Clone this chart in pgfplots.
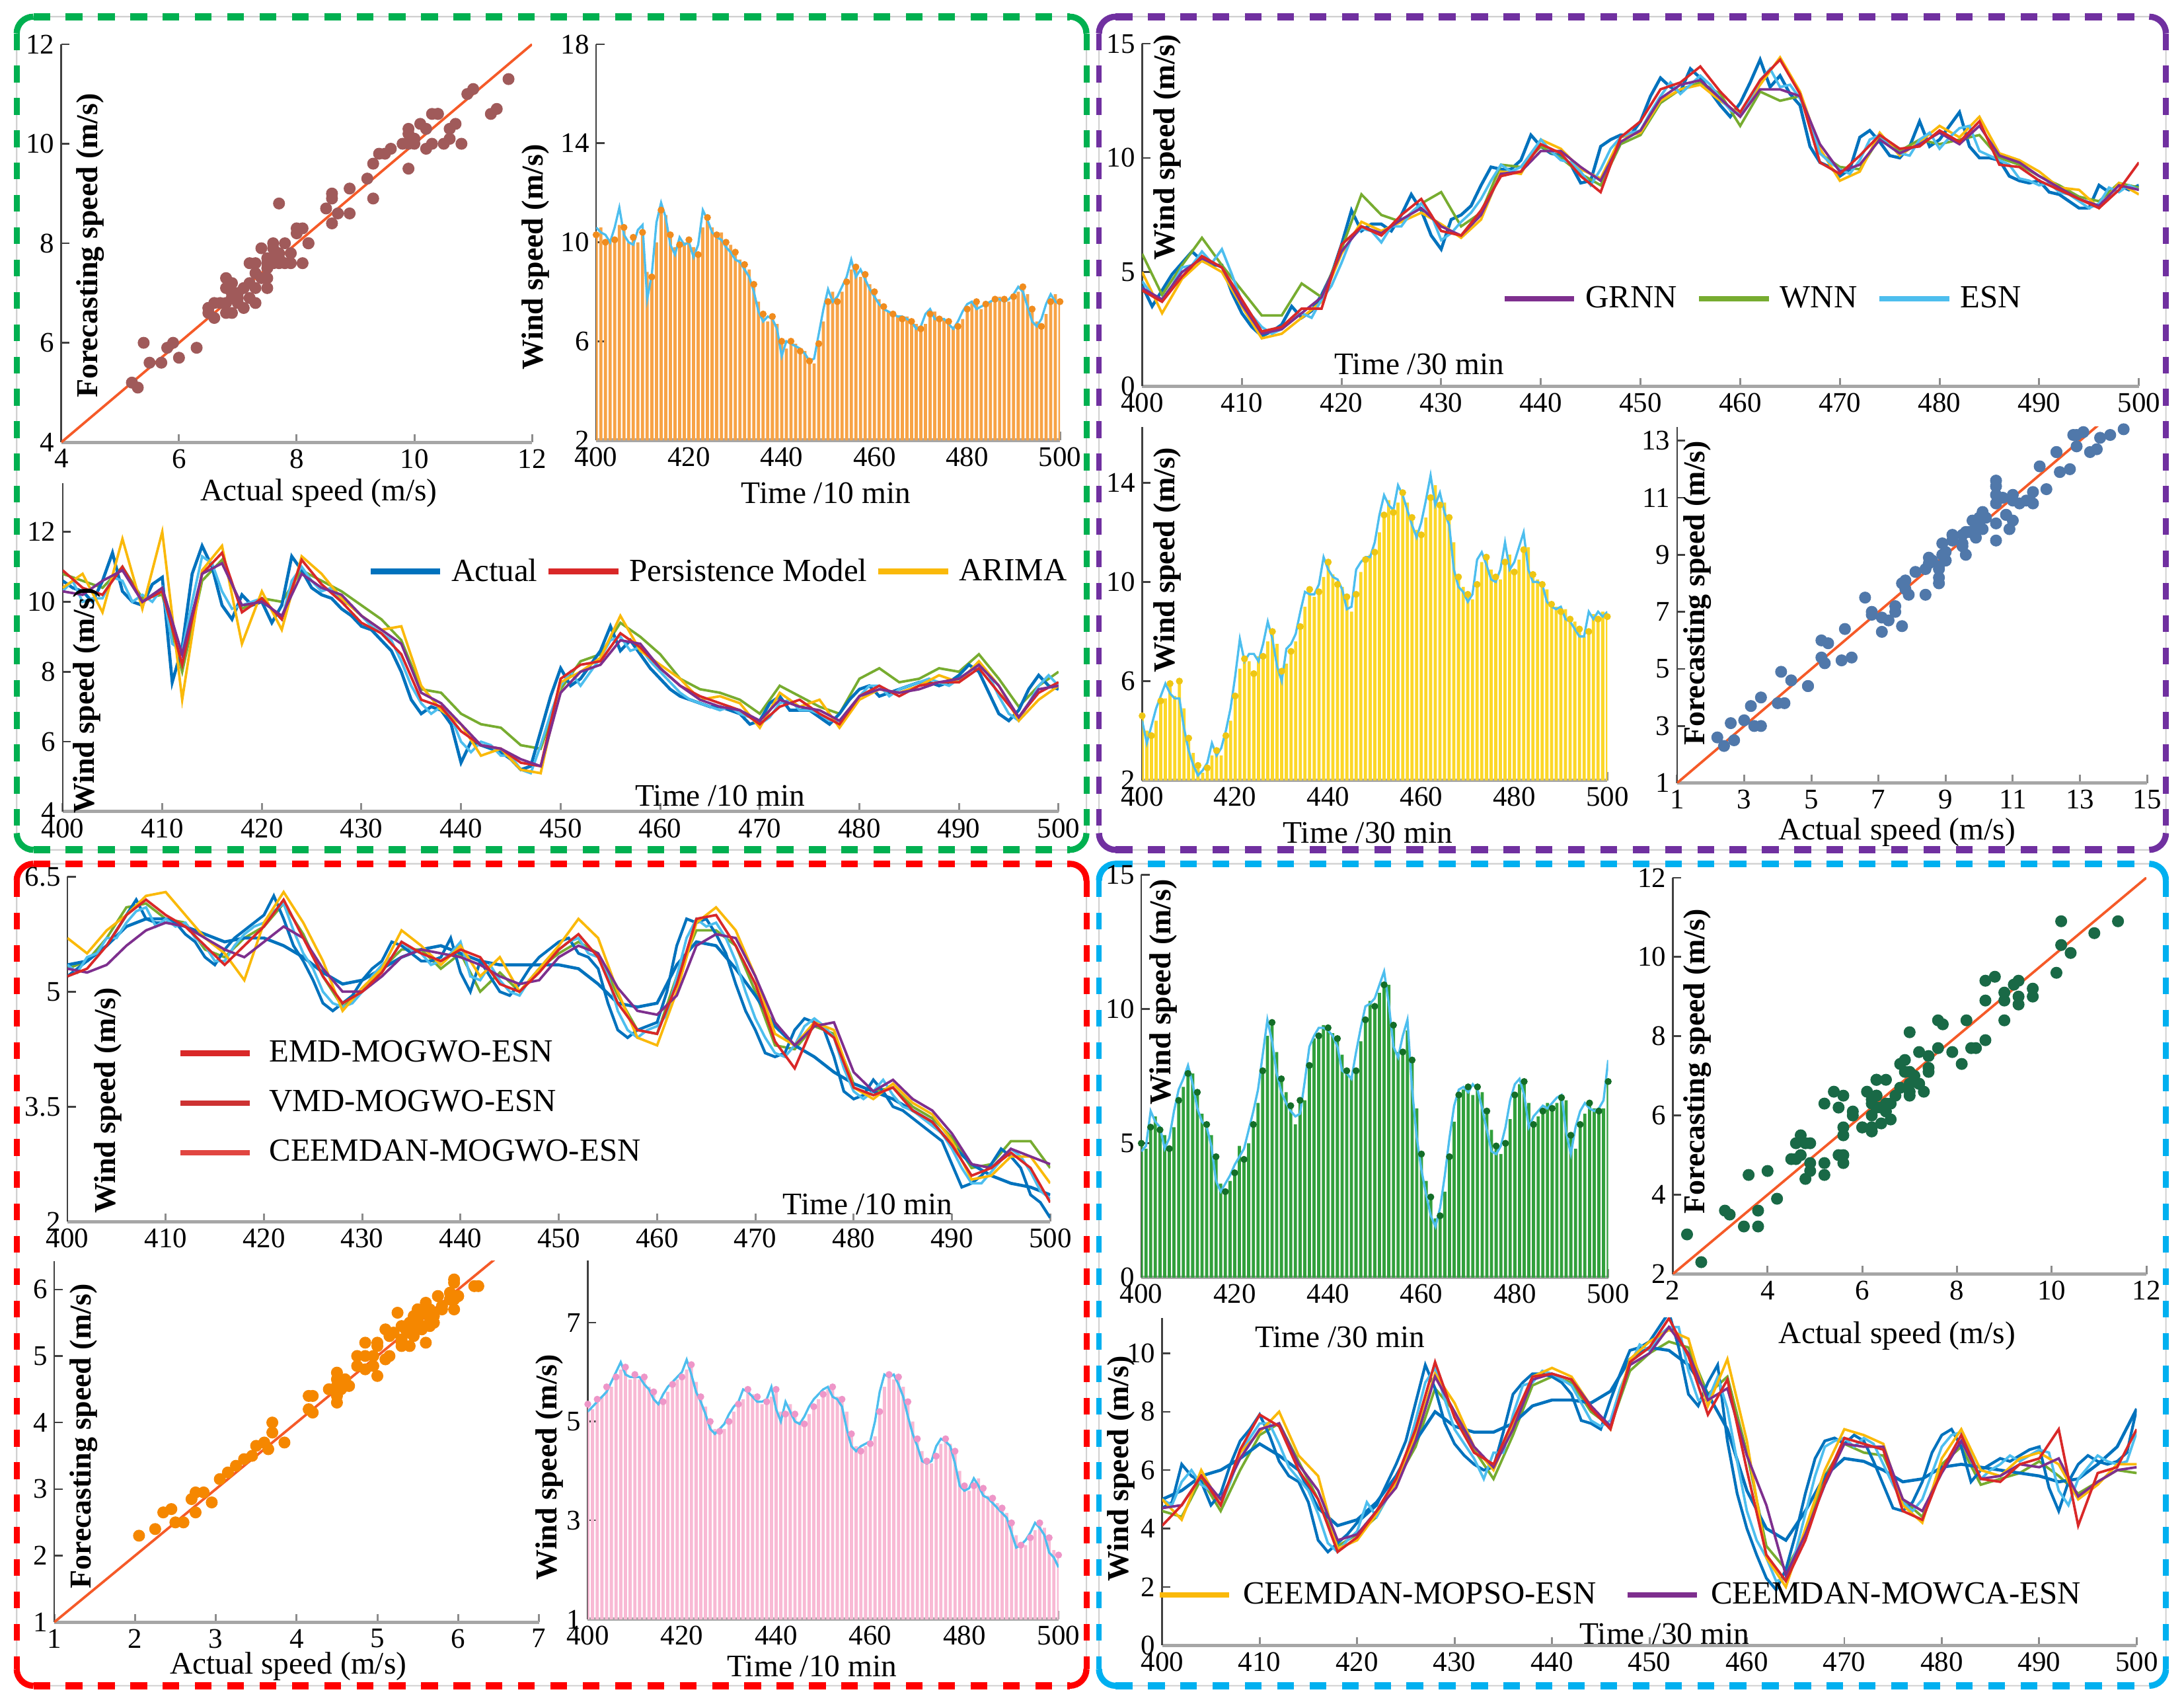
\documentclass[border=0pt]{standalone}
\usepackage{pgfplots}
\pgfplotsset{compat=1.18}
\usepackage{pgfplotstable}
\usepackage{fontspec}
\setmainfont{Liberation Serif}

\definecolor{mblue}{RGB}{0,114,189}
\definecolor{mred}{RGB}{217,40,40}
\definecolor{mredb}{RGB}{205,50,50}
\definecolor{mredc}{RGB}{225,70,65}
\definecolor{myellow}{RGB}{250,185,10}
\definecolor{mpurple}{RGB}{126,47,142}
\definecolor{mgreen}{RGB}{119,172,48}
\definecolor{mcyan}{RGB}{77,190,238}
\definecolor{barA}{RGB}{247,163,70}
\definecolor{dotA}{RGB}{240,140,30}
\definecolor{barB}{RGB}{252,215,40}
\definecolor{dotB}{RGB}{238,198,20}
\definecolor{barC}{RGB}{248,185,212}
\definecolor{dotC}{RGB}{238,150,200}
\definecolor{barD}{RGB}{50,160,60}
\definecolor{dotD}{RGB}{20,110,40}
\definecolor{scA}{RGB}{160,90,90}
\definecolor{scB}{RGB}{80,120,170}
\definecolor{scC}{RGB}{245,135,0}
\definecolor{scD}{RGB}{25,105,70}
\definecolor{diag}{RGB}{245,90,40}
\definecolor{bxA}{RGB}{0,176,80}
\definecolor{bxB}{RGB}{112,48,160}
\definecolor{bxC}{RGB}{255,0,0}
\definecolor{bxD}{RGB}{0,176,240}

\newcommand\fTk{\fontsize{14.5}{16}\selectfont}
\newcommand\fLb{\fontsize{16}{19}\selectfont}
\newcommand\fYl{\fontsize{15.5}{18}\selectfont\bfseries}
\newcommand\fLg{\fontsize{16.5}{19}\selectfont}

\pgfplotsset{
  panel/.style={scale only axis, anchor=south west, axis lines*=left,
    x axis line style={line width=0.6mm, color=black!35},
    y axis line style={line width=0.3mm, color=black!75},
    tick align=inside, major tick length=1.5mm,
    xtick style={line width=0.35mm, color=black!45},
    ytick style={line width=0.3mm, color=black!75},
    tick label style={font=\fTk},
    /pgf/number format/assume math mode=true,
    legend image code/.code={\draw[##1] (0mm,0mm) -- (12.5mm,0mm);},
    legend style={draw=none, fill=none, inner sep=0pt, font=\fLg, column sep=0pt,
      nodes={inner xsep=1.5mm, inner ysep=0pt}}},
  ln/.style={line width=0.45mm, no markers, forget plot},
  bars/.style={ybar, bar width=0.68, draw=none, fill=#1, forget plot},
  dots/.style={only marks, mark=*, mark size=0.55mm, color=#1, each nth point=2, forget plot},
  scat/.style={only marks, mark=*, mark size=1mm, color=#1},
  diagline/.style={color=diag, line width=0.45mm, no markers},
}

% ---------- panel 1 (10 min) ----------
\pgfplotstableread[row sep=\\]{
t a f\\
400 10.6 10.3\\ 401 10.4 10.6\\ 402 10.3 10.0\\ 403 10.0 10.1\\ 404 10.6 10.1\\
405 11.4 10.7\\ 406 10.3 10.6\\ 407 10.0 10.0\\ 408 9.9 10.2\\ 409 10.5 10.0\\
410 10.7 10.4\\ 411 7.7 8.8\\ 412 8.7 8.6\\ 413 10.8 10.0\\ 414 11.6 11.3\\
415 11.0 11.1\\ 416 9.9 10.3\\ 417 9.5 9.8\\ 418 10.2 9.9\\ 419 9.9 10.0\\
420 10.0 10.1\\ 421 9.4 9.8\\ 422 9.9 9.5\\ 423 11.3 10.6\\ 424 10.9 11.0\\
425 10.4 10.6\\ 426 10.2 10.3\\ 427 10.1 10.4\\ 428 9.8 10.0\\ 429 9.6 9.9\\
430 9.3 9.6\\ 431 9.2 9.3\\ 432 8.9 9.1\\ 433 8.6 8.9\\ 434 8.0 8.3\\
435 7.2 7.6\\ 436 6.8 7.1\\ 437 7.0 6.8\\ 438 6.9 7.0\\ 439 6.5 6.7\\
440 5.4 6.0\\ 441 6.0 5.7\\ 442 5.9 6.0\\ 443 5.8 5.9\\ 444 5.7 5.6\\
445 5.5 5.6\\ 446 5.2 5.2\\ 447 5.3 5.1\\ 448 6.3 5.9\\ 449 7.3 6.8\\
450 8.1 7.6\\ 451 7.6 8.0\\ 452 7.8 7.6\\ 453 8.2 8.0\\ 454 8.6 8.4\\
455 9.3 8.9\\ 456 8.6 9.0\\ 457 8.9 8.6\\ 458 8.5 8.7\\ 459 8.1 8.3\\
460 7.8 8.0\\ 461 7.5 7.7\\ 462 7.3 7.4\\ 463 7.2 7.2\\ 464 7.1 7.1\\
465 7.0 7.0\\ 466 7.0 6.9\\ 467 6.9 7.0\\ 468 6.8 6.8\\ 469 6.5 6.7\\
470 6.6 6.5\\ 471 7.1 6.7\\ 472 7.3 7.1\\ 473 6.9 7.2\\ 474 6.9 6.9\\
475 6.9 6.9\\ 476 6.7 6.8\\ 477 6.5 6.6\\ 478 6.8 6.6\\ 479 7.2 6.9\\
480 7.5 7.3\\ 481 7.6 7.6\\ 482 7.3 7.6\\ 483 7.4 7.3\\ 484 7.5 7.5\\
485 7.6 7.6\\ 486 7.7 7.7\\ 487 7.7 7.8\\ 488 7.6 7.7\\ 489 7.7 7.6\\
490 7.9 7.8\\ 491 8.2 8.0\\ 492 8.0 8.2\\ 493 7.4 7.9\\ 494 6.8 7.3\\
495 6.6 6.8\\ 496 6.9 6.6\\ 497 7.5 7.1\\ 498 7.9 7.6\\ 499 7.6 7.9\\
500 7.5 7.6\\
}\qa
\pgfplotstableread[row sep=\\]{
t b c d e\\
400 10.9 10.4 10.8 10.3\\ 402 10.4 10.8 10.6 10.2\\ 404 10.2 9.7 10.4 10.6\\ 406 11.0 11.8 11.0 10.9\\ 408 10.0 9.8 10.1 10.0\\
410 10.3 12.0 10.2 10.4\\ 412 8.2 7.2 8.0 8.5\\ 414 10.8 10.9 10.6 10.8\\ 416 11.4 11.6 11.2 11.1\\ 418 9.7 8.8 9.8 9.9\\
420 10.1 10.3 10.1 10.0\\ 422 9.5 9.2 10.0 9.6\\ 424 11.2 11.3 10.9 10.8\\ 426 10.5 10.8 10.6 10.4\\ 428 10.0 10.1 10.3 10.2\\
430 9.4 9.6 9.9 9.6\\ 432 9.1 9.2 9.5 9.2\\ 434 8.5 9.3 8.9 8.8\\ 436 7.2 7.6 7.5 7.4\\ 438 7.0 6.9 7.4 7.1\\
440 6.3 6.5 6.8 6.5\\ 442 5.9 5.6 6.5 5.9\\ 444 5.8 5.8 6.4 5.8\\ 446 5.4 5.2 5.9 5.5\\ 448 5.3 5.1 5.8 5.3\\
450 7.8 7.7 7.5 7.4\\ 452 8.2 8.0 8.3 8.0\\ 454 8.3 8.4 8.5 8.2\\ 456 9.1 9.6 9.4 8.9\\ 458 8.7 8.6 9.0 8.8\\
460 8.1 8.2 8.5 8.1\\ 462 7.6 7.8 7.8 7.6\\ 464 7.3 7.2 7.5 7.2\\ 466 7.1 7.3 7.4 7.0\\ 468 6.9 7.1 7.2 6.9\\
470 6.5 6.4 6.8 6.6\\ 472 7.0 7.4 7.6 7.2\\ 474 7.2 7.0 7.3 7.0\\ 476 6.8 7.2 7.0 6.9\\ 478 6.5 6.4 6.8 6.6\\
480 7.3 7.2 7.8 7.3\\ 482 7.6 7.5 8.1 7.5\\ 484 7.3 7.4 7.7 7.4\\ 486 7.6 7.6 7.8 7.5\\ 488 7.7 7.9 8.1 7.7\\
490 7.7 7.7 8.0 7.8\\ 492 8.1 8.3 8.5 8.2\\ 494 7.4 7.6 7.8 7.6\\ 496 6.7 6.6 7.0 6.7\\ 498 7.4 7.2 7.6 7.5\\
500 7.7 7.6 8.0 7.6\\
}\qb

% ---------- panel 2 (30 min) ----------
\pgfplotstableread[row sep=\\]{
t a f\\
400 4.4 4.6\\ 401 3.5 4.0\\ 402 4.2 3.8\\ 403 4.9 4.4\\ 404 5.4 5.2\\
405 5.9 5.3\\ 406 5.5 5.9\\ 407 5.3 5.4\\ 408 5.3 6.0\\ 409 4.1 4.9\\
410 3.2 3.7\\ 411 2.6 3.1\\ 412 2.2 2.6\\ 413 2.4 2.3\\ 414 2.7 2.5\\
415 3.5 3.0\\ 416 3.0 3.2\\ 417 3.3 3.0\\ 418 4.0 3.8\\ 419 4.9 4.4\\
420 6.2 5.4\\ 421 7.7 6.5\\ 422 6.8 6.9\\ 423 7.1 6.8\\ 424 7.1 6.3\\
425 6.8 7.0\\ 426 7.5 7.0\\ 427 8.4 7.6\\ 428 7.7 8.0\\ 429 6.6 7.5\\
430 6.0 6.4\\ 431 7.3 6.7\\ 432 7.5 7.2\\ 433 7.9 7.6\\ 434 8.8 8.2\\
435 9.6 9.0\\ 436 9.5 9.7\\ 437 9.5 9.4\\ 438 9.9 9.6\\ 439 11.0 10.2\\
440 10.5 10.8\\ 441 10.2 10.3\\ 442 10.1 9.9\\ 443 9.7 9.8\\ 444 8.9 9.4\\
445 9.0 8.8\\ 446 10.5 9.5\\ 447 10.8 10.4\\ 448 11.0 10.9\\ 449 11.0 11.1\\
450 11.6 11.2\\ 451 12.7 12.0\\ 452 13.5 12.7\\ 453 13.1 13.3\\ 454 12.9 12.8\\
455 13.9 13.2\\ 456 13.5 13.6\\ 457 12.9 13.2\\ 458 12.3 12.6\\ 459 11.8 12.1\\
460 12.4 11.9\\ 461 13.3 12.6\\ 462 14.3 13.4\\ 463 13.1 13.9\\ 464 13.6 13.1\\
465 12.8 13.2\\ 466 12.3 12.6\\ 467 10.5 11.6\\ 468 9.8 10.2\\ 469 9.6 9.8\\
470 9.2 9.5\\ 471 9.5 9.3\\ 472 10.9 9.9\\ 473 11.2 10.8\\ 474 10.7 11.0\\
475 10.1 10.5\\ 476 10.0 10.2\\ 477 10.5 10.1\\ 478 11.6 10.8\\ 479 10.5 11.1\\
480 10.8 10.4\\ 481 11.4 10.9\\ 482 12.0 11.3\\ 483 10.5 11.4\\ 484 10.0 10.3\\
485 10.0 10.1\\ 486 9.9 9.9\\ 487 9.2 9.7\\ 488 9.0 9.1\\ 489 8.9 9.0\\
490 9.0 8.8\\ 491 8.5 8.9\\ 492 8.4 8.5\\ 493 8.1 8.4\\ 494 7.8 8.1\\
495 7.8 7.8\\ 496 8.8 8.0\\ 497 8.5 8.7\\ 498 8.8 8.5\\ 499 8.6 8.8\\
500 8.8 8.6\\
}\qc
\pgfplotstableread[row sep=\\]{
t b c d e\\
400 4.3 5.8 4.2 5.0\\ 402 3.8 4.0 3.7 3.2\\ 404 5.0 5.3 4.8 4.7\\ 406 5.6 6.5 5.7 5.5\\ 408 5.2 5.3 5.2 5.0\\
410 3.6 4.2 3.8 3.5\\ 412 2.3 3.1 2.4 2.1\\ 414 2.5 3.1 2.6 2.3\\ 416 3.2 4.5 3.4 3.0\\ 418 3.9 3.9 3.4 3.7\\
420 5.9 6.0 6.2 5.8\\ 422 7.0 8.4 7.0 7.2\\ 424 6.7 7.5 6.6 6.8\\ 426 7.3 7.2 7.5 7.2\\ 428 7.8 8.0 8.2 7.6\\
430 7.0 8.5 6.8 7.1\\ 432 6.6 7.0 6.6 6.5\\ 434 7.5 7.6 7.7 7.3\\ 436 9.3 9.7 9.2 9.4\\ 438 9.4 9.6 9.4 9.3\\
440 10.3 10.5 10.6 10.8\\ 442 10.3 10.0 10.2 10.4\\ 444 9.6 9.3 9.2 9.5\\ 446 9.0 8.8 8.5 9.1\\ 448 10.7 10.6 10.9 10.9\\
450 11.2 11.0 11.6 11.1\\ 452 12.6 12.4 13.0 12.5\\ 454 13.2 13.0 13.3 13.0\\ 456 13.4 13.3 14.0 13.2\\ 458 12.6 12.8 12.9 12.5\\
460 11.8 11.4 12.0 11.9\\ 462 13.0 12.9 13.4 13.2\\ 464 13.0 12.5 14.3 14.4\\ 466 12.7 12.7 12.8 12.9\\ 468 10.6 10.2 9.8 10.4\\
470 9.4 9.6 9.3 9.0\\ 472 9.7 9.5 10.1 9.4\\ 474 10.8 10.9 11.0 11.1\\ 476 10.2 10.3 10.4 10.1\\ 478 10.6 10.8 10.5 10.7\\
480 11.1 10.6 11.2 11.4\\ 482 10.6 10.8 10.7 10.9\\ 484 11.4 11.0 11.6 11.8\\ 486 10.1 10.0 9.7 10.2\\ 488 9.8 9.7 9.6 9.9\\
490 9.2 9.2 9.0 9.4\\ 492 8.7 8.8 8.6 8.7\\ 494 8.2 8.3 8.2 8.6\\ 496 7.9 8.1 7.8 7.8\\ 498 8.8 8.9 8.6 8.9\\
500 8.6 8.7 9.8 8.4\\
}\qd

% ---------- panel 3 (10 min) ----------
\pgfplotstableread[row sep=\\]{
t a f\\
400 5.2 5.35\\ 401 5.3 5.25\\ 402 5.4 5.45\\ 403 5.5 5.5\\ 404 5.6 5.7\\
405 5.8 5.7\\ 406 6.0 5.9\\ 407 6.2 6.05\\ 408 5.95 6.1\\ 409 5.9 5.85\\
410 5.9 5.95\\ 411 5.9 5.85\\ 412 5.75 5.9\\ 413 5.65 5.7\\ 414 5.45 5.6\\
415 5.35 5.4\\ 416 5.55 5.4\\ 417 5.7 5.6\\ 418 5.8 5.75\\ 419 5.9 5.85\\
420 6.0 5.9\\ 421 6.25 6.05\\ 422 5.95 6.15\\ 423 5.6 5.8\\ 424 5.4 5.5\\
425 5.15 5.3\\ 426 4.85 5.0\\ 427 4.75 4.85\\ 428 4.85 4.8\\ 429 4.95 4.85\\
430 5.15 5.0\\ 431 5.3 5.2\\ 432 5.4 5.35\\ 433 5.65 5.45\\ 434 5.6 5.65\\
435 5.5 5.55\\ 436 5.4 5.5\\ 437 5.4 5.35\\ 438 5.45 5.4\\ 439 5.7 5.5\\
440 5.25 5.65\\ 441 5.0 5.2\\ 442 5.4 5.15\\ 443 5.2 5.35\\ 444 5.0 5.15\\
445 4.95 5.0\\ 446 5.1 4.95\\ 447 5.3 5.15\\ 448 5.45 5.3\\ 449 5.55 5.45\\
450 5.65 5.55\\ 451 5.7 5.65\\ 452 5.5 5.7\\ 453 5.45 5.5\\ 454 5.3 5.45\\
455 4.85 5.2\\ 456 4.5 4.75\\ 457 4.4 4.5\\ 458 4.5 4.4\\ 459 4.55 4.5\\
460 4.6 4.55\\ 461 5.0 4.7\\ 462 5.6 5.2\\ 463 5.95 5.7\\ 464 5.9 5.95\\
465 5.95 5.85\\ 466 5.75 5.9\\ 467 5.5 5.7\\ 468 5.1 5.4\\ 469 4.75 5.0\\
470 4.5 4.65\\ 471 4.2 4.4\\ 472 4.15 4.2\\ 473 4.2 4.15\\ 474 4.5 4.3\\
475 4.65 4.55\\ 476 4.6 4.65\\ 477 4.5 4.55\\ 478 4.15 4.4\\ 479 3.7 4.0\\
480 3.6 3.7\\ 481 3.65 3.6\\ 482 3.85 3.7\\ 483 3.7 3.85\\ 484 3.5 3.65\\
485 3.45 3.5\\ 486 3.35 3.45\\ 487 3.25 3.35\\ 488 3.15 3.25\\ 489 3.05 3.15\\
490 2.75 2.95\\ 491 2.45 2.7\\ 492 2.5 2.5\\ 493 2.6 2.5\\ 494 2.75 2.65\\
495 2.95 2.8\\ 496 2.85 2.95\\ 497 2.7 2.85\\ 498 2.35 2.65\\ 499 2.25 2.4\\
500 2.05 2.3\\
}\qe
\pgfplotstableread[row sep=\\]{
t b c d e g\\
400 5.3 5.7 5.2 5.3 5.35\\ 402 5.4 5.5 5.3 5.25 5.4\\ 404 5.7 5.8 5.6 5.35 5.6\\ 406 6.1 6.0 6.0 5.6 5.85\\ 408 6.15 6.25 6.2 5.8 5.95\\
410 5.95 6.3 6.0 5.9 5.95\\ 412 5.9 6.0 5.85 5.85 5.85\\ 414 5.55 5.7 5.6 5.7 5.75\\ 416 5.45 5.5 5.35 5.55 5.65\\ 418 5.7 5.15 5.6 5.45 5.7\\
420 5.85 5.9 5.85 5.65 5.7\\ 422 6.15 6.3 6.2 5.85 5.6\\ 424 5.75 5.9 5.7 5.7 5.45\\ 426 5.2 5.4 5.2 5.3 5.25\\ 428 4.8 4.75 4.85 5.0 5.1\\
430 5.0 5.05 5.0 5.0 5.15\\ 432 5.3 5.3 5.25 5.2 5.3\\ 434 5.55 5.8 5.65 5.45 5.45\\ 436 5.55 5.6 5.5 5.55 5.55\\ 438 5.3 5.35 5.4 5.5 5.6\\
440 5.5 5.6 5.55 5.45 5.5\\ 442 5.0 5.2 5.45 5.35 5.4\\ 444 5.25 5.45 5.1 5.2 5.35\\ 446 5.0 5.0 5.0 5.1 5.35\\ 448 5.3 5.3 5.25 5.15 5.35\\
450 5.5 5.6 5.55 5.45 5.35\\ 452 5.65 5.95 5.75 5.6 5.3\\ 454 5.5 5.7 5.45 5.5 5.1\\ 456 4.95 5.0 4.85 5.05 4.85\\ 458 4.5 4.4 4.5 4.75 4.8\\
460 4.45 4.3 4.45 4.7 4.85\\ 462 5.2 5.0 5.1 4.95 5.35\\ 464 5.8 5.9 5.95 5.6 5.65\\ 466 5.8 6.1 6.0 5.75 5.6\\ 468 5.6 5.8 5.6 5.7 5.3\\
470 5.0 5.2 5.1 5.2 4.95\\ 472 4.3 4.45 4.35 4.6 4.55\\ 474 4.25 4.3 4.0 4.3 4.3\\ 476 4.55 4.6 4.6 4.55 4.15\\ 478 4.45 4.5 4.4 4.6 3.95\\
480 3.8 3.75 3.75 3.95 3.8\\ 482 3.7 3.6 3.65 3.7 3.7\\ 484 3.75 3.8 3.75 3.85 3.6\\ 486 3.5 3.55 3.45 3.6 3.45\\ 488 3.35 3.4 3.3 3.45 3.3\\
490 3.1 3.05 3.0 3.15 3.0\\ 492 2.7 2.55 2.6 2.75 2.75\\ 494 2.75 2.6 2.7 2.7 2.6\\ 496 3.05 2.85 2.9 2.95 2.5\\ 498 3.05 2.85 2.7 2.85 2.45\\
500 2.7 2.5 2.25 2.75 2.35\\
}\qf

% ---------- panel 4 (30 min) ----------
\pgfplotstableread[row sep=\\]{
t a f\\
400 4.7 5.0\\ 401 4.9 4.8\\ 402 6.2 5.6\\ 403 5.8 6.0\\ 404 5.6 5.5\\
405 4.8 5.3\\ 406 5.2 4.8\\ 407 6.2 5.6\\ 408 7.0 6.6\\ 409 7.4 7.1\\
410 7.9 7.6\\ 411 7.2 7.6\\ 412 6.3 6.9\\ 413 5.8 6.1\\ 414 5.6 5.7\\
415 4.9 5.3\\ 416 3.6 4.5\\ 417 3.2 3.5\\ 418 3.5 3.2\\ 419 3.8 3.6\\
420 4.2 3.9\\ 421 4.5 4.9\\ 422 4.8 4.4\\ 423 5.5 5.0\\ 424 6.2 5.7\\
425 7.0 6.5\\ 426 8.3 7.7\\ 427 9.6 9.0\\ 428 8.8 9.5\\ 429 7.6 8.4\\
430 6.9 7.4\\ 431 6.5 6.9\\ 432 6.2 6.4\\ 433 6.0 5.7\\ 434 6.1 6.6\\
435 7.3 6.6\\ 436 8.6 7.9\\ 437 9.0 8.9\\ 438 9.3 9.0\\ 439 9.3 9.4\\
440 9.2 9.3\\ 441 9.0 9.1\\ 442 8.6 8.9\\ 443 7.7 8.3\\ 444 7.6 7.7\\
445 7.4 7.5\\ 446 8.4 7.7\\ 447 9.3 8.8\\ 448 10.1 9.6\\ 449 10.2 10.3\\
450 10.4 10.1\\ 451 10.9 10.6\\ 452 11.4 10.9\\ 453 10.2 10.9\\ 454 8.6 9.4\\
455 8.2 8.4\\ 456 9.0 8.4\\ 457 9.6 9.2\\ 458 7.0 8.1\\ 459 5.2 6.3\\
460 4.0 4.6\\ 461 3.1 3.6\\ 462 2.3 3.0\\ 463 1.9 2.2\\ 464 2.6 2.3\\
465 3.8 3.2\\ 466 5.2 4.5\\ 467 6.4 5.8\\ 468 7.0 6.8\\ 469 7.1 7.0\\
470 6.9 7.1\\ 471 7.2 6.8\\ 472 7.0 7.1\\ 473 6.3 6.9\\ 474 5.5 6.2\\
475 4.7 5.5\\ 476 4.6 4.9\\ 477 4.9 4.6\\ 478 5.6 5.0\\ 479 6.6 5.9\\
480 7.2 6.8\\ 481 7.4 7.2\\ 482 6.8 7.3\\ 483 5.6 6.5\\ 484 6.0 5.7\\
485 6.2 6.0\\ 486 6.4 6.2\\ 487 6.3 6.5\\ 488 6.5 6.3\\ 489 6.7 6.5\\
490 6.8 6.7\\ 491 5.4 6.6\\ 492 4.6 5.3\\ 493 5.6 4.8\\ 494 6.2 5.7\\
495 6.5 6.1\\ 496 6.3 6.5\\ 497 6.2 6.3\\ 498 6.3 6.2\\ 499 6.6 6.3\\
500 8.1 7.3\\
}\qg
\pgfplotstableread[row sep=\\]{
t b c d e g\\
400 4.6 5.0 4.1 4.7 5.0\\ 402 4.4 4.3 4.8 4.8 5.3\\ 404 5.7 6.0 5.8 5.8 5.8\\ 406 4.6 4.8 4.8 5.0 6.0\\ 408 6.0 6.6 6.7 6.4 6.4\\
410 7.2 7.3 7.9 7.4 6.9\\ 412 7.6 8.0 7.5 7.6 6.5\\ 414 6.3 6.5 6.0 6.2 6.0\\ 416 5.0 5.8 5.0 5.3 4.7\\ 418 3.4 3.3 3.2 3.6 4.1\\
420 3.8 3.6 3.7 3.8 4.3\\ 422 4.4 4.5 4.6 4.6 4.9\\ 424 5.6 5.6 5.7 5.4 5.8\\ 426 6.8 7.2 7.4 7.0 7.0\\ 428 8.8 9.3 9.7 9.2 8.0\\
430 8.0 8.3 7.8 8.0 7.5\\ 432 6.7 6.8 6.6 6.8 7.3\\ 434 5.7 6.0 6.2 6.1 7.3\\ 436 7.2 7.6 7.7 7.4 7.6\\ 438 8.9 9.2 9.2 9.1 8.2\\
440 9.2 9.5 9.3 9.3 8.4\\ 442 9.0 9.2 9.1 9.1 8.4\\ 444 8.0 8.2 8.1 8.2 8.3\\ 446 7.5 7.4 7.4 7.5 8.7\\ 448 9.4 9.8 9.7 9.6 9.8\\
450 10.0 10.4 10.2 10.0 10.2\\ 452 10.4 10.8 11.2 10.9 10.1\\ 454 10.2 10.5 9.9 10.0 9.6\\ 456 8.6 8.2 7.9 8.4 8.6\\ 458 9.2 9.8 9.1 8.8 7.4\\
460 6.6 7.0 6.0 6.5 5.3\\ 462 3.4 3.0 3.1 4.8 4.0\\ 464 2.6 2.0 2.2 2.4 3.6\\ 466 3.8 4.0 3.6 3.8 4.6\\ 468 5.8 6.0 5.6 5.5 5.8\\
470 6.9 7.4 7.1 6.9 6.4\\ 472 6.6 7.2 6.9 6.8 6.3\\ 474 6.5 6.9 6.7 6.8 6.0\\ 476 5.0 4.8 4.6 5.0 5.6\\ 478 4.4 4.2 4.3 4.6 5.7\\
480 6.2 6.4 6.0 5.9 6.1\\ 482 6.8 7.4 7.2 7.0 6.2\\ 484 5.5 6.0 5.7 5.7 6.1\\ 486 5.7 5.8 5.6 5.8 6.0\\ 488 5.9 6.4 6.2 6.2 5.9\\
490 6.3 6.6 6.4 6.1 5.8\\ 492 5.8 6.2 7.4 6.4 5.6\\ 494 5.2 5.0 4.1 5.1 5.7\\ 496 5.6 5.5 5.9 5.6 6.2\\ 498 6.0 6.2 6.1 6.0 6.8\\
500 5.9 6.2 7.4 6.1 8.1\\
}\qh

\newcommand\dbox[5]{%
  \draw[black!18, line width=0.25mm, rounded corners=3mm] (#2,#3) rectangle (#4,#5);
  \draw[#1, line width=1.25mm, dash pattern=on 3mm off 2.8mm] ({#2+3mm},#3) -- ({#4-3mm},#3) ({#2+3mm},#5) -- ({#4-3mm},#5);
  \draw[#1, line width=1.05mm, dash pattern=on 3mm off 2.8mm] (#2,{#5-3mm}) -- (#2,{#3+3mm}) (#4,{#5-3mm}) -- (#4,{#3+3mm});
  \draw[#1, line width=1.1mm] (#2,{#5-3mm}) arc[start angle=180,end angle=90,radius=3mm]
    ({#4-3mm},#5) arc[start angle=90,end angle=0,radius=3mm]
    (#4,{#3+3mm}) arc[start angle=0,end angle=-90,radius=3mm]
    ({#2+3mm},#3) arc[start angle=270,end angle=180,radius=3mm];}

\begin{document}
\begin{tikzpicture}
\useasboundingbox (0,0) rectangle (392mm,305.75mm);

\dbox{bxA}{3mm}{153.25mm}{195mm}{302.75mm}
\dbox{bxB}{197.25mm}{153.25mm}{388.75mm}{302.75mm}
\dbox{bxC}{3mm}{3.25mm}{195mm}{150.75mm}
\dbox{bxD}{197.25mm}{3.25mm}{388.75mm}{150.75mm}

% ===== quadrant 1 =====
\begin{axis}[panel, at={(11mm,226.375mm)}, width=84.5mm, height=71.43mm,
  xmin=4, xmax=12, ymin=4, ymax=12, xtick={4,6,...,12}, ytick={4,6,...,12}]
\addplot[scat=scA] table[x=a,y=f]{\qa};
\addplot[diagline] coordinates {(4,4) (12,12)};
\end{axis}

\begin{axis}[panel, at={(107mm,226.75mm)}, width=83.25mm, height=71.05mm,
  xmin=400, xmax=500, ymin=2, ymax=18, xtick={400,420,...,500}, ytick={2,6,...,18}]
\addplot[bars=barA] table[x=t,y=f]{\qa};
\addplot[ln, mcyan, line width=0.4mm] table[x=t,y=a]{\qa};
\addplot[dots=dotA] table[x=t,y=f]{\qa};
\end{axis}

\begin{axis}[panel, at={(11.25mm,160.1mm)}, width=178.75mm, height=59mm,
  xmin=400, xmax=500, ymin=4, ymax=13.4, xtick={400,410,...,500}, ytick={4,6,...,12},
  legend columns=3, legend style={at={(axis description cs:0.306,0.731)}, anchor=west}]
\addplot[ln, mgreen] table[x=t,y=d]{\qb};
\addplot[ln, mblue, line width=0.55mm] table[x=t,y=a]{\qa};
\addplot[ln, mcyan] table[x=t,y=f]{\qa};
\addplot[ln, myellow] table[x=t,y=c]{\qb};
\addplot[ln, mred] table[x=t,y=b]{\qb};
\addplot[ln, mpurple] table[x=t,y=e]{\qb};
\addlegendimage{mblue, line width=1mm}\addlegendentry{Actual}
\addlegendimage{mred, line width=1mm}\addlegendentry{Persistence Model}
\addlegendimage{myellow, line width=1mm}\addlegendentry{ARIMA}
\end{axis}

% ===== quadrant 2 =====
\begin{axis}[panel, at={(205mm,236.43mm)}, width=178.9mm, height=61.48mm,
  xmin=400, xmax=500, ymin=0, ymax=15, xtick={400,410,...,500}, ytick={0,5,10,15},
  legend columns=3, legend style={at={(axis description cs:0.3605,0.2558)}, anchor=west,
    /tikz/every even column/.append style={column sep=2mm}}]
\addplot[ln, mblue, line width=0.55mm] table[x=t,y=a]{\qc};
\addplot[ln, mgreen] table[x=t,y=c]{\qd};
\addplot[ln, myellow] table[x=t,y=e]{\qd};
\addplot[ln, mcyan] table[x=t,y=f]{\qc};
\addplot[ln, mpurple] table[x=t,y=b]{\qd};
\addplot[ln, mred] table[x=t,y=d]{\qd};
\addlegendimage{mpurple, line width=1mm}\addlegendentry{GRNN}
\addlegendimage{mgreen, line width=1mm}\addlegendentry{WNN}
\addlegendimage{mcyan, line width=1mm}\addlegendentry{ESN}
\end{axis}

\begin{axis}[panel, at={(205mm,165.73mm)}, width=83.5mm, height=63.4mm,
  xmin=400, xmax=500, ymin=2, ymax=16.25, xtick={400,420,...,500}, ytick={2,6,10,14}]
\addplot[bars=barB] table[x=t,y=f]{\qc};
\addplot[ln, mcyan, line width=0.4mm] table[x=t,y=a]{\qc};
\addplot[dots=dotB] table[x=t,y=f]{\qc};
\end{axis}

\begin{axis}[panel, at={(301mm,165.23mm)}, width=84.38mm, height=63.9mm,
  xmin=1, xmax=15, ymin=1, ymax=13.48, xtick={1,3,...,15}, ytick={1,3,...,13}]
\addplot[scat=scB] table[x=a,y=f]{\qc};
\addplot[diagline] coordinates {(1,1) (15,15)};
\end{axis}

% ===== quadrant 3 =====
\begin{axis}[panel, at={(12.1mm,86.53mm)}, width=176.4mm, height=61.9mm,
  xmin=400, xmax=500, ymin=2, ymax=6.5, xtick={400,410,...,500}, ytick={2,3.5,5,6.5},
  legend columns=1, legend cell align=left,
  legend style={at={(axis description cs:0.1114,0.344)}, anchor=west,
    row sep=3.9mm, nodes={inner xsep=3mm, text height=4mm, text depth=1mm}}]
\addplot[ln, mgreen] table[x=t,y=b]{\qf};
\addplot[ln, mblue, line width=0.55mm] table[x=t,y=g]{\qf};
\addplot[ln, mblue, line width=0.5mm] table[x=t,y=a]{\qe};
\addplot[ln, mcyan] table[x=t,y=f]{\qe};
\addplot[ln, myellow] table[x=t,y=c]{\qf};
\addplot[ln, mpurple] table[x=t,y=e]{\qf};
\addplot[ln, mred] table[x=t,y=d]{\qf};
\addlegendimage{mred, line width=1mm}\addlegendentry{EMD-MOGWO-ESN}
\addlegendimage{mredb, line width=1mm}\addlegendentry{VMD-MOGWO-ESN}
\addlegendimage{mredc, line width=1mm}\addlegendentry{CEEMDAN-MOGWO-ESN}
\end{axis}

\begin{axis}[panel, at={(9.73mm,14.65mm)}, width=87mm, height=64.85mm,
  xmin=1, xmax=7, ymin=1, ymax=6.43, xtick={1,...,7}, ytick={1,...,6}]
\addplot[scat=scC] table[x=a,y=f]{\qe};
\addplot[diagline] coordinates {(1,1) (7,7)};
\end{axis}

\begin{axis}[panel, at={(105.5mm,15.18mm)}, width=84.5mm, height=64.33mm,
  xmin=400, xmax=500, ymin=1, ymax=8.25, xtick={400,420,...,500}, ytick={1,3,5,7}]
\addplot[bars=barC] table[x=t,y=f]{\qe};
\addplot[ln, mcyan, line width=0.4mm] table[x=t,y=a]{\qe};
\addplot[dots=dotC] table[x=t,y=f]{\qe};
\end{axis}

% ===== quadrant 4 =====
\begin{axis}[panel, at={(204.85mm,76.5mm)}, width=83.8mm, height=72.28mm,
  xmin=400, xmax=500, ymin=0, ymax=15, xtick={400,420,...,500}, ytick={0,5,10,15}]
\addplot[bars=barD] table[x=t,y=f]{\qg};
\addplot[ln, mcyan, line width=0.4mm] table[x=t,y=a]{\qg};
\addplot[dots=dotD] table[x=t,y=f]{\qg};
\end{axis}

\begin{axis}[panel, at={(300.25mm,77.13mm)}, width=85mm, height=71.13mm,
  xmin=2, xmax=12, ymin=2, ymax=12, xtick={2,4,...,12}, ytick={2,4,...,12}]
\addplot[scat=scD] table[x=a,y=f]{\qg};
\addplot[diagline] coordinates {(2,2) (12,12)};
\end{axis}

\begin{axis}[panel, at={(208.6mm,10.5mm)}, width=174.9mm, height=58.8mm,
  xmin=400, xmax=500, ymin=0, ymax=11.22, xtick={400,410,...,500}, ytick={0,2,...,10},
  legend columns=2, legend style={at={(axis description cs:-0.006,0.154)}, anchor=west,
    nodes={inner xsep=2mm}, /tikz/every even column/.append style={column sep=3mm}}]
\addplot[ln, mgreen] table[x=t,y=b]{\qh};
\addplot[ln, mblue, line width=0.55mm] table[x=t,y=g]{\qh};
\addplot[ln, mblue, line width=0.5mm] table[x=t,y=a]{\qg};
\addplot[ln, mcyan] table[x=t,y=f]{\qg};
\addplot[ln, myellow] table[x=t,y=c]{\qh};
\addplot[ln, mpurple] table[x=t,y=e]{\qh};
\addplot[ln, mred] table[x=t,y=d]{\qh};
\addlegendimage{myellow, line width=1mm}\addlegendentry{CEEMDAN-MOPSO-ESN}
\addlegendimage{mpurple, line width=1mm}\addlegendentry{CEEMDAN-MOWCA-ESN}
\end{axis}

% ===== axis titles =====
\node[font=\fLb] at (57.25mm,217.25mm) {Actual speed (m/s)};
\node[font=\fLb] at (148.25mm,217.25mm) {Time /10 min};
\node[font=\fLb] at (129.25mm,163mm) {Time /10 min};
\node[font=\fLb] at (254.75mm,240.35mm) {Time /30 min};
\node[font=\fLb] at (245.5mm,156.35mm) {Time /30 min};
\node[font=\fLb] at (340.5mm,156.35mm) {Actual speed (m/s)};
\node[font=\fLb] at (155.75mm,89.68mm) {Time /10 min};
\node[font=\fLb] at (51.75mm,6.75mm) {Actual speed (m/s)};
\node[font=\fLb] at (145.75mm,6.75mm) {Time /10 min};
\node[font=\fLb] at (240.5mm,65.75mm) {Time /30 min};
\node[font=\fLb] at (340.5mm,66mm) {Actual speed (m/s)};
\node[font=\fLb] at (298.75mm,12.58mm) {Time /30 min};

\node[font=\fYl, rotate=90] at (16.25mm,261.68mm) {Forecasting speed (m/s)};
\node[font=\fYl, rotate=90] at (96.13mm,259.6mm) {Wind speed (m/s)};
\node[font=\fYl, rotate=90] at (15.6mm,180mm) {Wind speed (m/s)};
\node[font=\fYl, rotate=90] at (209.5mm,279.35mm) {Wind speed (m/s)};
\node[font=\fYl, rotate=90] at (209.5mm,205.25mm) {Wind speed (m/s)};
\node[font=\fYl, rotate=90] at (304.65mm,199.3mm) {Forecasting speed (m/s)};
\node[font=\fYl, rotate=90] at (19.38mm,108.25mm) {Wind speed (m/s)};
\node[font=\fYl, rotate=90] at (15mm,48mm) {Forecasting speed (m/s)};
\node[font=\fYl, rotate=90] at (98.63mm,42.5mm) {Wind speed (m/s)};
\node[font=\fYl, rotate=90] at (208.85mm,127.75mm) {Wind speed (m/s)};
\node[font=\fYl, rotate=90] at (304.65mm,115.25mm) {Forecasting speed (m/s)};
\node[font=\fYl, rotate=90] at (201.25mm,42.25mm) {Wind speed (m/s)};
\end{tikzpicture}
\end{document}
